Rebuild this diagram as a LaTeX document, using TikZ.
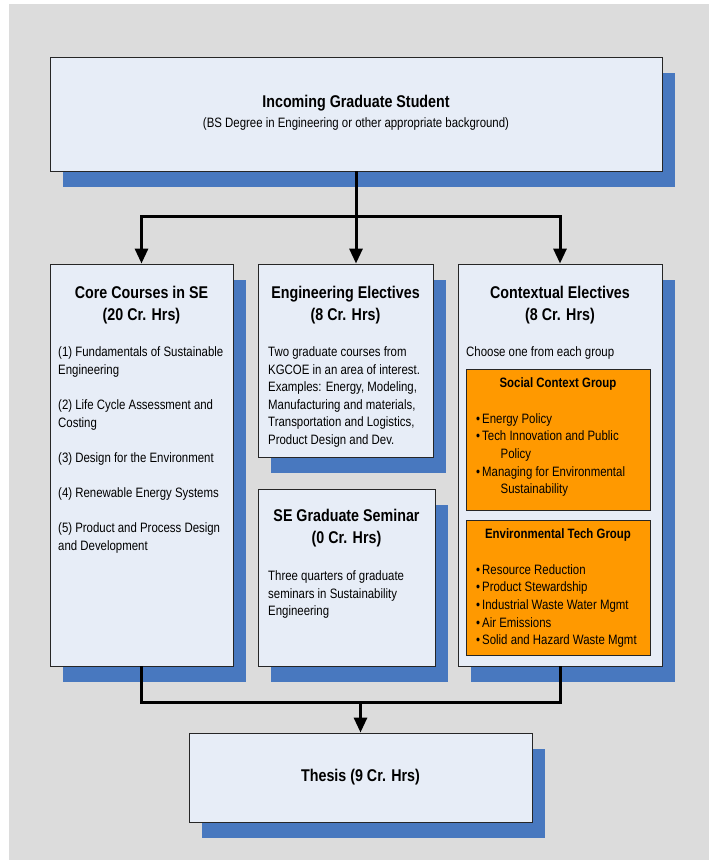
\documentclass[tikz,border=0pt]{standalone}
\usepackage{fontspec}
\setmainfont{Liberation Sans}[FakeStretch=0.84]
\usetikzlibrary{arrows.meta,shadows}
\definecolor{fondgris}{HTML}{DCDCDC}
\definecolor{fondboite}{HTML}{E7EDF7}
\definecolor{ombrebleue}{HTML}{4878BF}
\definecolor{orangegroupe}{HTML}{FF9900}
\newcommand{\pucegroupe}{\makebox[6pt][l]{\textbullet}}
\tikzset{
	boite/.style={draw=black!85,line width=0.9pt,fill=fondboite,
		drop shadow={shadow xshift=12.5pt,shadow yshift=-16pt,fill=ombrebleue,opacity=1}},
	groupe/.style={draw=black!85,line width=0.9pt,fill=orangegroupe},
	titre/.style={font=\fontsize{17}{22}\selectfont\bfseries,align=center,inner sep=0pt},
	soustitre/.style={font=\fontsize{13.6}{17.6}\selectfont\bfseries,align=center,inner sep=0pt},
	corps/.style={font=\fontsize{13.6}{17.6}\selectfont,align=left,inner sep=0pt,anchor=west},
	trait/.style={line width=3pt},
	fleche/.style={line width=3pt,-{Triangle[width=13pt,length=15pt]}},
}
\begin{document}
\begin{tikzpicture}[x=1pt,y=-1pt]
%					Fond :
					\useasboundingbox (0,0) rectangle (709,860);
					\fill[fondgris] (9,4) rectangle (709,860);
%					Boîtes :
					\node[boite,minimum width=612pt,minimum height=114pt] (etudiant) at (356,114) {};
					\node[boite,minimum width=183pt,minimum height=402pt] (noyau) at (141.5,465) {};
					\node[boite,minimum width=175pt,minimum height=193pt] (optionnels) at (345.5,360.5) {};
					\node[boite,minimum width=177pt,minimum height=177pt] (seminaire) at (346.5,577.5) {};
					\node[boite,minimum width=204pt,minimum height=402pt] (contexte) at (560,465) {};
					\node[groupe,minimum width=184pt,minimum height=141pt] (social) at (558,439.5) {};
					\node[groupe,minimum width=184pt,minimum height=135pt] (environnement) at (558,587.5) {};
					\node[boite,minimum width=343pt,minimum height=89pt] (these) at (360.5,777.5) {};
%					Textes :
					\node[titre] (etudiant-titre) at (356,103) {Incoming Graduate Student};
					\node[corps,anchor=center] (etudiant-note) at (356,124) {(BS Degree in Engineering or other appropriate background)};
					\node[titre] (noyau-titre) at (141.5,305) {Core Courses in SE\\(20 Cr. Hrs)};
					\node[corps] (noyau-liste) at (58,450) {(1) Fundamentals of Sustainable\\Engineering\\[17.6pt](2) Life Cycle Assessment and\\Costing\\[17.6pt](3) Design for the Environment\\[17.6pt](4) Renewable Energy Systems\\[17.6pt](5) Product and Process Design\\and Development};
					\node[titre] (optionnels-titre) at (345.5,305) {Engineering Electives\\(8 Cr. Hrs)};
					\node[corps] (optionnels-texte) at (268,397) {Two graduate courses from\\KGCOE in an area of interest.\\Examples: Energy, Modeling,\\Manufacturing and materials,\\Transportation and Logistics,\\Product Design and Dev.};
					\node[titre] (seminaire-titre) at (346.5,528.5) {SE Graduate Seminar\\(0 Cr. Hrs)};
					\node[corps] (seminaire-texte) at (268,594.5) {Three quarters of graduate\\seminars in Sustainability\\Engineering};
					\node[titre] (contexte-titre) at (560,305) {Contextual Electives\\(8 Cr. Hrs)};
					\node[corps] (contexte-texte) at (466,353) {Choose one from each group};
					\node[soustitre] (social-titre) at (558,384) {Social Context Group};
					\node[corps] (social-liste) at (476,455) {\pucegroupe Energy Policy\\\pucegroupe Tech Innovation and Public\\\hspace*{24.5pt}Policy\\\pucegroupe Managing for Environmental\\\hspace*{24.5pt}Sustainability};
					\node[soustitre] (environnement-titre) at (558,535) {Environmental Tech Group};
					\node[corps] (environnement-liste) at (476,606) {\pucegroupe Resource Reduction\\\pucegroupe Product Stewardship\\\pucegroupe Industrial Waste Water Mgmt\\\pucegroupe Air Emissions\\\pucegroupe Solid and Hazard Waste Mgmt};
					\node[titre] (these-titre) at (360.5,777.5) {Thesis (9 Cr. Hrs)};
%					Liaisons :
					\coordinate (depart) at (356,216);
					\coordinate (jonction) at (360.5,702);
					\draw[trait] (etudiant.south) -- (depart);
					\draw[fleche] (depart) -| (noyau.north);
					\draw[fleche] (depart) -- (depart |- optionnels.north);
					\draw[fleche] (depart) -| (contexte.north);
					\draw[trait] (noyau.south) |- (jonction) -| (contexte.south);
					\draw[fleche] (jonction) -- (these.north);
				\end{tikzpicture}
\end{document}
